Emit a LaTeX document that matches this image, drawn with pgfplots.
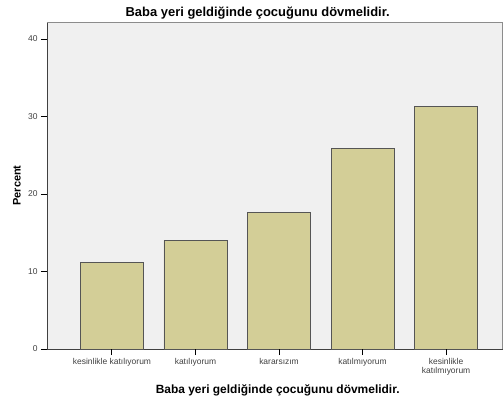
\documentclass[border=0pt]{standalone}
\usepackage{pgfplots}
\pgfplotsset{compat=1.18}
\usepackage{fontspec}
\setmainfont{Liberation Sans}
\definecolor{bgc}{RGB}{240,240,240}
\definecolor{barc}{RGB}{211,206,151}
\definecolor{edgec}{RGB}{85,85,85}
\begin{document}
\begin{tikzpicture}
\begin{axis}[
  at={(0,0)}, anchor=south west,
  scale only axis,
  width=455bp, height=327bp,
  ymin=0, ymax=42.2,
  xmin=-0.778, xmax=4.67,
  ytick={0,10,20,30,40},
  xtick={0,1,2,3,4},
  xticklabels={kesinlikle katılıyorum, katılıyorum, kararsızım, katılmıyorum, {kesinlikle\\katılmıyorum}},
  xtick pos=bottom, ytick pos=left,
  tick align=outside,
  major tick length=6bp,
  every tick/.style={black, line width=1pt},
  x tick label style={font=\fontsize{8.5}{8.5}\selectfont, align=center, text=black!75},
  y tick label style={font=\fontsize{8.5}{9}\selectfont, text=black!75},
  /pgf/number format/assume math mode=true,
  axis background/.style={fill=bgc},
  axis line style={black!75, line width=0.7pt},
  clip=false,
  every axis title shift=0pt,
  title={\bfseries Baba yeri geldiğinde çocuğunu dövmelidir.},
  title style={font=\fontsize{13}{14}\selectfont, at={(rel axis cs:0.463,1)}, anchor=base, yshift=5.5bp},
  xlabel={\bfseries Baba yeri geldiğinde çocuğunu dövmelidir.},
  xlabel style={font=\fontsize{12}{13}\selectfont, at={(rel axis cs:0.507,0)}, anchor=base, yshift=-44bp},
  ylabel={\bfseries Percent},
  ylabel style={font=\fontsize{11}{12}\selectfont, at={(rel axis cs:-0.066,0.5)}, anchor=center},
]
\addplot[ybar, bar width=63bp, fill=barc, draw=edgec, line width=0.6pt] coordinates {(0,11.19) (1,14.03) (2,17.64) (3,25.9) (4,31.26)};
\draw[black!45, line width=0.7pt] (rel axis cs:0,1) -- (rel axis cs:1,1) -- (rel axis cs:1,0);
\pgfplotsinvokeforeach{0,1,2,3,4}{\draw[black, line width=1pt] (axis cs:#1,0) -- (axis cs:#1,-0.75);}
\pgfplotsinvokeforeach{0,10,20,30,40}{\draw[black, line width=1pt] (axis cs:-0.778,#1) -- (axis cs:-0.85,#1);}
\end{axis}
\pgfresetboundingbox
\useasboundingbox (-47bp,-54bp) rectangle (456bp,349bp);
\end{tikzpicture}
\end{document}
